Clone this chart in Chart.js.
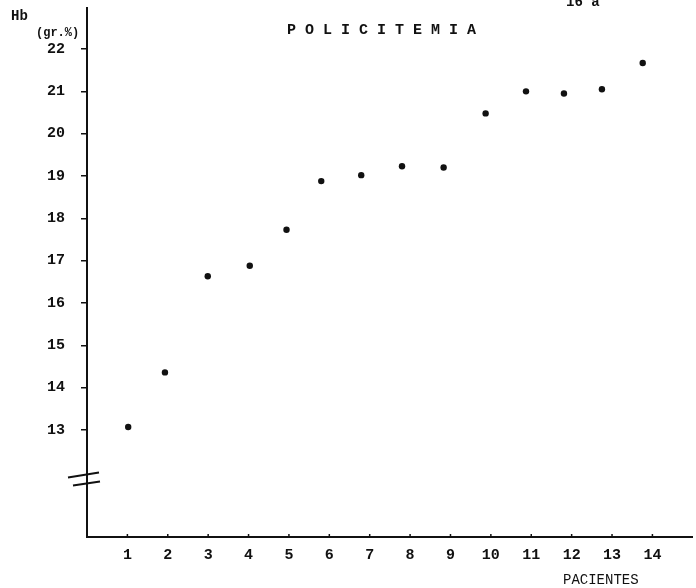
<!DOCTYPE html>
<html>
<head>
<meta charset="utf-8">
<script src="https://cdn.jsdelivr.net/npm/chart.js@4.4.1/dist/chart.umd.min.js"></script>
<style>
  html, body { margin: 0; padding: 0; background: #fff; }
  #wrap { width: 696px; height: 588px; position: relative; }
</style>
</head>
<body>
<div id="wrap"><canvas id="myChart"></canvas></div>
<script>
// patients 1..14 and where each dot sits along the axis as drawn
const patientLabels = [1, 2, 3, 4, 5, 6, 7, 8, 9, 10, 11, 12, 13, 14];
const patientPos = [1.02, 1.93, 2.99, 4.03, 4.94, 5.80, 6.79, 7.80, 8.83, 9.87, 10.87, 11.81, 12.75, 13.76];
// Hb (gr.%)
const hbValues = [13.07, 14.36, 16.63, 16.88, 17.73, 18.88, 19.02, 19.23, 19.2, 20.48, 21.0, 20.95, 21.05, 21.67];
const yTickValues = [13, 14, 15, 16, 17, 18, 19, 20, 21, 22];

const ink = '#111';
const typeFont = '"Liberation Mono", "DejaVu Sans Mono", monospace';

const points = patientPos.map((x, i) => ({ x: x, y: hbValues[i] }));

// no edge padding for labels, the axes sit where the paper has them
function noPad(s) {
  s.paddingTop = 0;
  s.paddingBottom = 0;
  s.paddingLeft = 0;
  s.paddingRight = 0;
}

// extra drawing: upward x ticks, axis break, typed texts
const paperPlugin = {
  id: 'paper',
  afterDraw(chart) {
    const c = chart.ctx;
    const xs = chart.scales.x;
    const ys = chart.scales.y;
    const bottom = chart.chartArea.bottom;
    c.save();
    c.strokeStyle = ink;
    c.lineWidth = 1.5;
    patientLabels.forEach(p => {
      const px = xs.getPixelForValue(p);
      c.beginPath();
      c.moveTo(px, bottom);
      c.lineTo(px, bottom - 3);
      c.stroke();
    });

    // the // break on the y axis
    const ax = chart.chartArea.left;
    const yb = ys.getPixelForValue(11.85);
    c.lineWidth = 2;
    c.beginPath();
    c.moveTo(ax - 19, yb - 1);
    c.lineTo(ax + 12, yb - 6);
    c.moveTo(ax - 14, yb + 7);
    c.lineTo(ax + 13, yb + 3);
    c.stroke();

    c.fillStyle = ink;
    c.textBaseline = 'middle';
    c.textAlign = 'left';
    c.font = 'bold 15px ' + typeFont;
    c.fillText('P O L I C I T E M I A', 287, 30);
    c.font = 'bold 14px ' + typeFont;
    c.fillText('Hb', 11, 16);
    c.font = 'bold 12px ' + typeFont;
    c.fillText('(gr.%)', 36, 33);
    c.font = '14px ' + typeFont;
    c.fillText('PACIENTES', 563, 580);
    c.font = 'bold 14px ' + typeFont;
    c.fillText('16 a', 566, 2);
    c.restore();
  }
};

const ctx = document.getElementById('myChart');

new Chart(ctx, {
  type: 'scatter',
  data: {
    datasets: [{
      label: 'Hb',
      data: points,
      backgroundColor: ink,
      borderColor: ink,
      pointRadius: 3.2,
      pointHoverRadius: 3.2,
      borderWidth: 0
    }]
  },
  options: {
    responsive: true,
    maintainAspectRatio: false,
    animation: false,
    layout: { padding: { top: 8, right: -4, left: 0, bottom: 0 } },
    plugins: {
      legend: { display: false },
      tooltip: { enabled: false }
    },
    scales: {
      x: {
        type: 'linear',
        min: 0,
        max: 15,
        afterBuildTicks: (s) => { s.ticks = patientLabels.map(v => ({ value: v })); },
        afterFit: (s) => { s.height = 51; noPad(s); },
        grid: { display: false, drawTicks: false },
        border: { display: true, color: ink, width: 2 },
        ticks: {
          color: ink,
          padding: 9,
          maxRotation: 0,
          autoSkip: false,
          font: { family: typeFont, size: 15, weight: 'bold' }
        }
      },
      y: {
        type: 'linear',
        min: 10.47,
        max: 22.97,
        afterBuildTicks: (s) => { s.ticks = yTickValues.map(v => ({ value: v })); },
        afterFit: (s) => { s.width = 87; noPad(s); },
        grid: { drawOnChartArea: false, drawTicks: true, tickLength: 6, color: ink, lineWidth: 1.5 },
        border: { display: true, color: ink, width: 2 },
        ticks: {
          color: ink,
          padding: 16,
          autoSkip: false,
          font: { family: typeFont, size: 15, weight: 'bold' }
        }
      }
    }
  },
  plugins: [paperPlugin]
});
</script>
</body>
</html>
